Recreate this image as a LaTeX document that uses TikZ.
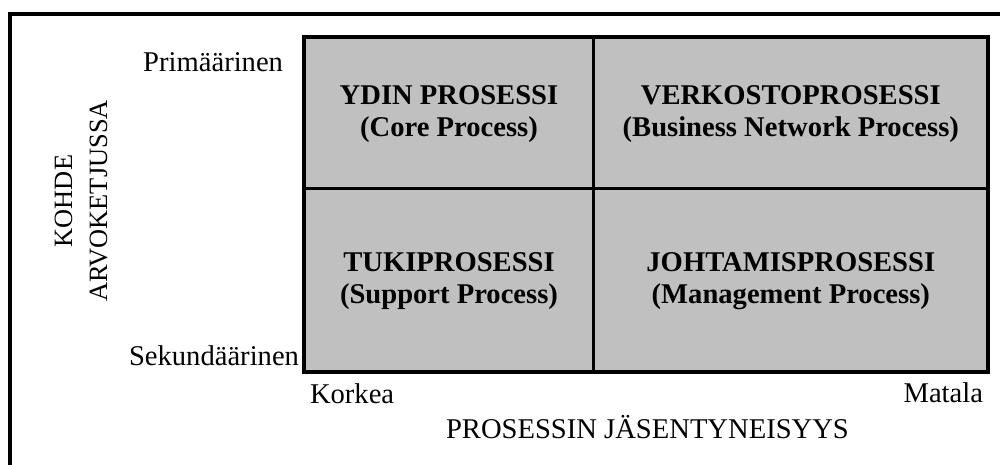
\documentclass[tikz,border=0pt]{standalone}
\usepackage{fontspec}
\setmainfont{Liberation Serif}
\definecolor{cellgray}{HTML}{C0C0C0}
\begin{document}
\begin{tikzpicture}[x=1pt,y=-1pt,
  lbl/.style={inner sep=0pt,outer sep=0pt,font=\fontsize{28.6}{32.5}\selectfont},
  celltext/.style={inner sep=0pt,outer sep=0pt,align=center,font=\fontsize{28.6}{32.5}\selectfont\bfseries},
  vlbl/.style={inner sep=0pt,outer sep=0pt,align=center,rotate=90,font=\fontsize{26.4}{35}\selectfont},
  frameline/.style={line width=4pt,draw=black},
  gridouter/.style={line width=4pt,draw=black,fill=cellgray},
  gridinner/.style={line width=3pt,draw=black}]
\useasboundingbox (0,0) rectangle (1000,464);
\clip (0,0) rectangle (1000,464);
% outer frame (only left and top edges visible)
\coordinate (fbl) at (10,470);
\coordinate (ftr) at (1006,14);
\draw[frameline] (fbl) |- (ftr);
% grid
\coordinate (gtl) at (304,37);
\coordinate (gbr) at (988,372);
\coordinate (mt) at (593.5,37);
\coordinate (mb) at (593.5,372);
\coordinate (ml) at (304,188);
\coordinate (mr) at (988,188);
\path[gridouter] (gtl) rectangle (gbr);
\draw[gridinner] (mt) -- (mb);
\draw[gridinner] (ml) -- (mr);
\draw[line width=4pt] (gtl) rectangle (gbr);
% cell texts
\node[celltext] (core) at (449,114.2) {YDIN PROSESSI\\(Core Process)};
\node[celltext] (network) at (790.8,114.2) {VERKOSTOPROSESSI\\(Business Network Process)};
\node[celltext] (support) at (449,281.2) {TUKIPROSESSI\\(Support Process)};
\node[celltext] (management) at (790.8,281.2) {JOHTAMISPROSESSI\\(Management Process)};
% axis labels
\node[lbl,anchor=base east] (prim) at (283,71) {Primäärinen};
\node[lbl,anchor=base east] (sek) at (299,365) {Sekundäärinen};
\node[lbl,anchor=base west] (korkea) at (310,403) {Korkea};
\node[lbl,anchor=base east] (matala) at (983,402) {Matala};
\node[lbl,anchor=base] (xtitle) at (647.5,438) {PROSESSIN JÄSENTYNEISYYS};
\node[vlbl] (ytitle) at (81,201) {KOHDE\\ARVOKETJUSSA};
\end{tikzpicture}
\end{document}
